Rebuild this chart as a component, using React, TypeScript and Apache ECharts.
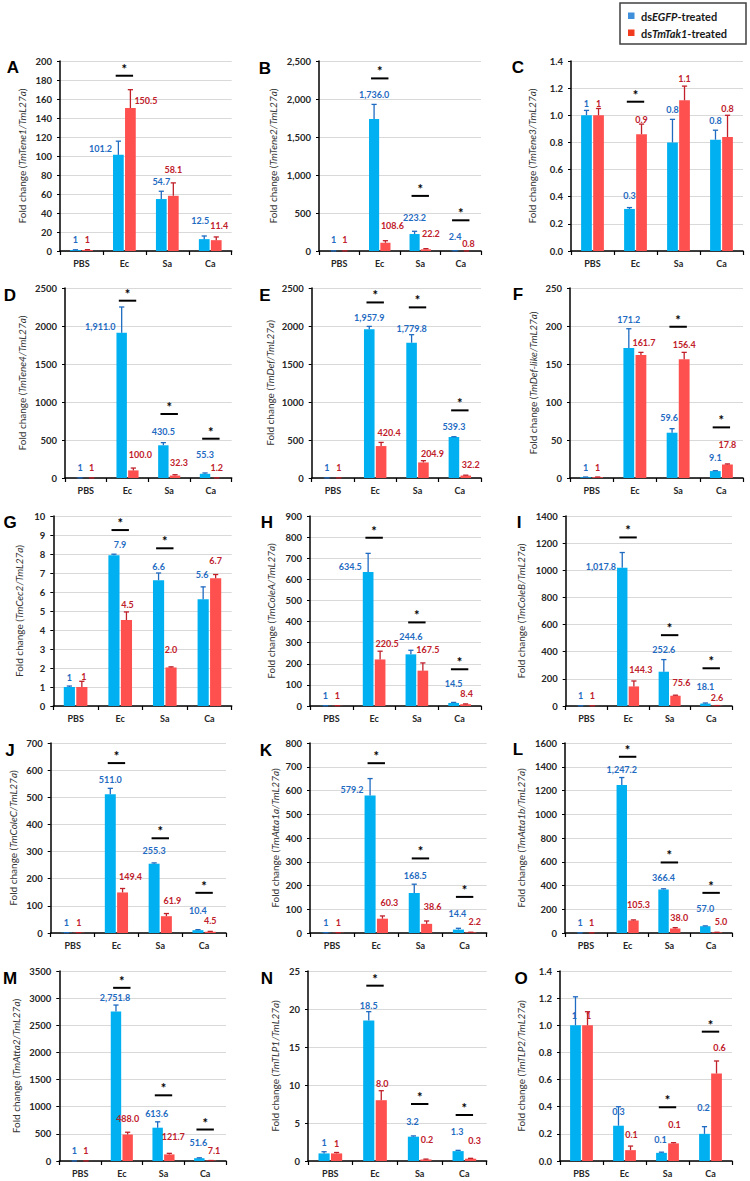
import React, { useEffect, useRef } from "react";
import * as echarts from "echarts";

const categories = ["PBS", "Ec", "Sa", "Ca"];

// ---- data (dsEGFP = blue, dsTmTak1 = red), SD = upper error, sig = level of significance bar
const aBlue = [1, 101.2, 54.7, 12.5];
const aRed = [1, 150.5, 58.1, 11.4];
const aBlueSd = [0.3, 14.4, 8.2, 3.3];
const aRedSd = [0.4, 19.3, 13.6, 3.4];
const aSig = [null, 184.5, null, null];
const aAxis = [200, 20];

const bBlue = [1, 1736.0, 223.2, 2.4];
const bRed = [1, 108.6, 22.2, 0.8];
const bBlueSd = [0.2, 193, 36, 1.5];
const bRedSd = [0.3, 27, 9, 0.3];
const bSig = [null, 2271, 725, 404];
const bAxis = [2500, 500];

const cBlue = [1, 0.31, 0.8, 0.82];
const cRed = [1, 0.86, 1.11, 0.84];
const cBlueSd = [0.036, 0.01, 0.17, 0.07];
const cRedSd = [0.05, 0.075, 0.105, 0.16];
const cSig = [null, 1.1, null, null];
const cAxis = [1.4, 0.2];

const dBlue = [1, 1911.0, 430.5, 55.3];
const dRed = [1, 100.0, 32.3, 1.2];
const dBlueSd = [0.3, 339, 35, 11];
const dRedSd = [0.3, 31, 11, 0.5];
const dSig = [null, 2333, 842, 517];
const dAxis = [2500, 500];

const eBlue = [1, 1957.9, 1779.8, 539.3];
const eRed = [1, 420.4, 204.9, 32.2];
const eBlueSd = [0.3, 37, 106, 4];
const eRedSd = [0.3, 48, 23, 5];
const eSig = [null, 2310, 2245, 890];
const eAxis = [2500, 500];

const fBlue = [1, 171.2, 59.6, 9.1];
const fRed = [1, 161.7, 156.4, 17.8];
const fBlueSd = [0.3, 25.2, 5.3, 0.5];
const fRedSd = [0.3, 3.6, 8.9, 0.7];
const fSig = [null, null, 199, 66.6];
const fAxis = [250, 50];

const gBlue = [1, 7.94, 6.62, 5.62];
const gRed = [1, 4.52, 2.03, 6.72];
const gBlueSd = [0.05, 0.05, 0.38, 0.65];
const gRedSd = [0.3, 0.43, 0.03, 0.2];
const gSig = [null, 9.26, 8.3, null];
const gAxis = [10, 1];

const hBlue = [1, 634.5, 244.6, 14.5];
const hRed = [1, 220.5, 167.5, 8.4];
const hBlueSd = [0.3, 88.5, 19.4, 2.5];
const hRedSd = [0.3, 39, 36.5, 1.5];
const hSig = [null, 797, 396, 174];
const hAxis = [900, 100];

const iBlue = [1, 1017.8, 252.6, 18.1];
const iRed = [1, 144.3, 75.6, 2.6];
const iBlueSd = [0.3, 113, 89.4, 4];
const iRedSd = [0.3, 40, 4, 0.5];
const iSig = [null, 1242, 522, 278];
const iAxis = [1400, 200];

const jBlue = [1, 511.0, 255.3, 10.4];
const jRed = [1, 149.4, 61.9, 4.5];
const jBlueSd = [0.3, 22, 3, 2];
const jRedSd = [0.3, 14.6, 9.8, 1.5];
const jSig = [null, 626, 349, 148];
const jAxis = [700, 100];

const kBlue = [1, 579.2, 168.5, 14.4];
const kRed = [1, 60.3, 38.6, 2.2];
const kBlueSd = [0.3, 71, 37, 5.4];
const kRedSd = [0.3, 11.5, 12, 1];
const kSig = [null, 715, 314, 152];
const kAxis = [800, 100];

const lBlue = [1, 1247.2, 366.4, 57.0];
const lRed = [1, 105.3, 38.0, 5.0];
const lBlueSd = [0.3, 62, 6, 3];
const lRedSd = [0.3, 5, 7, 1];
const lSig = [null, 1484, 594, 338];
const lAxis = [1600, 200];

const mBlue = [1, 2751.8, 613.6, 51.6];
const mRed = [1, 488.0, 121.7, 7.1];
const mBlueSd = [0.5, 121, 108, 7];
const mRedSd = [0.5, 42, 19, 2];
const mSig = [null, 3190, 1210, 580];
const mAxis = [3500, 500];

const nBlue = [1, 18.5, 3.2, 1.3];
const nRed = [1, 8.0, 0.2, 0.3];
const nBlueSd = [0.22, 1.15, 0.1, 0.1];
const nRedSd = [0.12, 1.25, 0.05, 0.05];
const nSig = [null, 23.07, 7.5, 6.05];
const nAxis = [25, 5];

const oBlue = [1, 0.26, 0.06, 0.2];
const oRed = [1, 0.08, 0.13, 0.645];
const oBlueSd = [0.21, 0.14, 0.005, 0.053];
const oRedSd = [0.1, 0.03, 0.005, 0.092];
const oSig = [null, null, 0.396, 0.953];
const oAxis = [1.4, 0.2];

type Panel = {
  letter: string; gene: string; blue: number[]; red: number[];
  blueSd: number[]; redSd: number[]; sig: (number | null)[]; axis: number[]; fmt: string;
};

const panels: Panel[] = [
  { letter: "A", gene: "TmTene1", blue: aBlue, red: aRed, blueSd: aBlueSd, redSd: aRedSd, sig: aSig, axis: aAxis, fmt: "plain" },
  { letter: "B", gene: "TmTene2", blue: bBlue, red: bRed, blueSd: bBlueSd, redSd: bRedSd, sig: bSig, axis: bAxis, fmt: "comma" },
  { letter: "C", gene: "TmTene3", blue: cBlue, red: cRed, blueSd: cBlueSd, redSd: cRedSd, sig: cSig, axis: cAxis, fmt: "dec1" },
  { letter: "D", gene: "TmTene4", blue: dBlue, red: dRed, blueSd: dBlueSd, redSd: dRedSd, sig: dSig, axis: dAxis, fmt: "plain" },
  { letter: "E", gene: "TmDef", blue: eBlue, red: eRed, blueSd: eBlueSd, redSd: eRedSd, sig: eSig, axis: eAxis, fmt: "plain" },
  { letter: "F", gene: "TmDef-like", blue: fBlue, red: fRed, blueSd: fBlueSd, redSd: fRedSd, sig: fSig, axis: fAxis, fmt: "plain" },
  { letter: "G", gene: "TmCec2", blue: gBlue, red: gRed, blueSd: gBlueSd, redSd: gRedSd, sig: gSig, axis: gAxis, fmt: "plain" },
  { letter: "H", gene: "TmColeA", blue: hBlue, red: hRed, blueSd: hBlueSd, redSd: hRedSd, sig: hSig, axis: hAxis, fmt: "plain" },
  { letter: "I", gene: "TmColeB", blue: iBlue, red: iRed, blueSd: iBlueSd, redSd: iRedSd, sig: iSig, axis: iAxis, fmt: "plain" },
  { letter: "J", gene: "TmColeC", blue: jBlue, red: jRed, blueSd: jBlueSd, redSd: jRedSd, sig: jSig, axis: jAxis, fmt: "plain" },
  { letter: "K", gene: "TmAtta1a", blue: kBlue, red: kRed, blueSd: kBlueSd, redSd: kRedSd, sig: kSig, axis: kAxis, fmt: "plain" },
  { letter: "L", gene: "TmAtta1b", blue: lBlue, red: lRed, blueSd: lBlueSd, redSd: lRedSd, sig: lSig, axis: lAxis, fmt: "plain" },
  { letter: "M", gene: "TmAtta2", blue: mBlue, red: mRed, blueSd: mBlueSd, redSd: mRedSd, sig: mSig, axis: mAxis, fmt: "plain" },
  { letter: "N", gene: "TmTLP1", blue: nBlue, red: nRed, blueSd: nBlueSd, redSd: nRedSd, sig: nSig, axis: nAxis, fmt: "plain" },
  { letter: "O", gene: "TmTLP2", blue: oBlue, red: oRed, blueSd: oBlueSd, redSd: oRedSd, sig: oSig, axis: oAxis, fmt: "dec1" },
];

// ---- layout (pixels)
const ROW_TOP = [61, 288, 516, 743, 971];
const PLOT_H = 190;
// [left, right] of each plot
const PLOT_X = [
  [60, 231.7], [319, 481], [571, 743],
  [65, 231.7], [311.7, 481], [570, 743],
  [53.3, 231.7], [310, 481], [565.7, 732],
  [50.7, 226], [310, 486.7], [565, 732],
  [59.3, 226], [308, 486.7], [560, 732],
];
const NAME_X = [22, 273, 532, 22, 270, 533, 19, 271, 521, 13, 275, 521, 16, 275, 521];
const LETTER_XY = [
  [13, 67], [265, 68], [518, 67],
  [10, 295], [265, 295], [518, 294],
  [10, 522], [267, 522], [519, 522],
  [10, 750], [266, 750], [518, 749],
  [10, 978], [267, 978], [521, 978],
];
// value label placement per bar: [PBS blue, PBS red, Ec blue, Ec red, Sa blue, Sa red, Ca blue, Ca red]
// mode a = above error bar, t = above bar, l = left of bar, r = right of whisker; then dx, dy in px
type Lab = [string, number, number];
const LABELS: Lab[][] = [
  [["a", 0, 0], ["a", 0, 0], ["l", 0, 0], ["r", 0, -1], ["a", 0, 0], ["a", 0, -3], ["a", -4, -5], ["a", 3, -1]],
  [["a", 0, -1], ["a", 0, -1], ["a", 0, 0], ["a", 7, -5], ["a", 0, -4], ["a", 5, -5], ["a", 0, -4], ["a", 2, 3]],
  [["a", 0, 3], ["a", 0, 5], ["a", 0, -2], ["a", 0, 5], ["a", 0, 0], ["a", 0, 2], ["a", 0, 0], ["a", 0, 3]],
  [["a", 0, 0], ["a", 0, 0], ["l", 0, 0], ["a", 7, -4], ["a", 0, -1], ["a", 4, -2], ["a", 0, -8], ["a", 0, 0]],
  [["a", 0, 0], ["a", 0, 0], ["a", 0, 1], ["a", 8, 0], ["a", 0, 4], ["a", 9, 3], ["a", 0, 0], ["a", 5, -1]],
  [["a", 0, 0], ["a", 0, 0], ["a", 0, 1], ["a", 3, 0], ["a", -3, -1], ["a", 0, 2], ["a", 0, -3], ["a", 0, -9]],
  [["a", 0, 1], ["a", 2, 5], ["a", 6, 0], ["a", 1, 3], ["a", 0, 3], ["a", 0, -7], ["a", -1, -2], ["a", 0, -4]],
  [["a", 0, 0], ["a", 0, 0], ["l", 0, 0], ["a", 7, 2], ["a", 0, -4], ["a", 5, -3], ["a", 0, -9], ["a", 1, 0]],
  [["a", 0, 0], ["a", 0, 0], ["l", 0, 5], ["a", 7, -1], ["a", 0, 0], ["a", 6, -3], ["a", 0, -7], ["a", 0, 2]],
  [["a", 0, 0], ["a", 0, 0], ["a", 0, 1], ["a", 8, -2], ["a", 0, -2], ["a", 6, -3], ["a", 0, -9], ["a", 0, -1]],
  [["a", 0, 0], ["a", 0, 0], ["l", 0, 0], ["a", 7, -3], ["a", 1, 1], ["a", 6, -4], ["a", -1, -5], ["a", 4, -1]],
  [["a", 0, 0], ["a", 0, 0], ["a", 0, 2], ["a", 5, -5], ["a", 0, -1], ["a", 4, 0], ["a", 0, -7], ["a", 4, -1]],
  [["a", 0, 0], ["a", 0, 0], ["a", -1, 2], ["a", 0, -4], ["a", -1, 2], ["a", 4, -7], ["a", -1, -5], ["a", 3, 0]],
  [["a", 0, 1], ["a", 0, 1], ["a", 0, 4], ["a", 1, 3], ["a", -1, -4], ["a", 1, -10], ["a", -1, -9], ["a", 4, -8]],
  [["t", -1, 0], ["t", 1, 0], ["t", 0, -4], ["a", 1, -2], ["a", -1, -3], ["a", 1, -8], ["a", -1, -9], ["a", 3, -3]],
];

const FONT = "Lato, 'Open Sans', sans-serif";
const BLUE = "#00B0F0";
const RED = "#FF5050";
const BLUE_TXT = "#1F6BC2";
const RED_TXT = "#C0202A";
const BAR_FRAC = 0.25;
const GAP_FRAC = 0.12;

const fmtVal = (v: number) =>
  v === 1 ? "1" : v.toLocaleString("en-US", { minimumFractionDigits: 1, maximumFractionDigits: 1 });

const tickFmt = (kind: string) => (v: number) => {
  if (kind === "comma") return v.toLocaleString("en-US");
  if (kind === "dec1") return v.toFixed(1);
  return String(Math.round(v * 1000) / 1000);
};

function buildOption() {
  const grid: any[] = [];
  const xAxis: any[] = [];
  const yAxis: any[] = [];
  const series: any[] = [];
  const graphic: any[] = [];

  panels.forEach((p, i) => {
    const row = Math.floor(i / 3);
    const [x0, x1] = PLOT_X[i];
    const top = ROW_TOP[row];
    grid.push({ left: x0, top, width: x1 - x0, height: PLOT_H, containLabel: false });
    xAxis.push({
      gridIndex: i, type: "category", data: categories, boundaryGap: true,
      axisLine: { show: true, lineStyle: { color: "#000", width: 1.5 } },
      axisTick: { show: true, length: 4, inside: false, lineStyle: { color: "#000", width: 1.2 } },
      axisLabel: { color: "#262626", fontFamily: FONT, fontWeight: "bold", fontSize: 9, margin: 8 },
      splitLine: { show: false },
    });
    yAxis.push({
      gridIndex: i, type: "value", min: 0, max: p.axis[0], interval: p.axis[1],
      axisLine: { show: true, lineStyle: { color: "#000", width: 1.5 } },
      axisTick: { show: true, length: 3, lineStyle: { color: "#000", width: 1 } },
      axisLabel: { formatter: tickFmt(p.fmt), color: "#262626", fontFamily: FONT, fontWeight: "bold", fontSize: 9.5, margin: 8 },
      splitLine: { show: true, lineStyle: { color: "#d9d9d9", width: 1 } },
    });
    series.push({
      type: "bar", xAxisIndex: i, yAxisIndex: i, data: p.blue, barWidth: BAR_FRAC * 100 + "%",
      barGap: GAP_FRAC * 100 + "%", itemStyle: { color: BLUE }, silent: true, z: 2,
    });
    series.push({
      type: "bar", xAxisIndex: i, yAxisIndex: i, data: p.red, barWidth: BAR_FRAC * 100 + "%",
      barGap: GAP_FRAC * 100 + "%", itemStyle: { color: RED }, silent: true, z: 2,
    });

    // error bars + value labels
    const items: { cat: number; side: number; v: number; sd: number; lab: Lab }[] = [];
    categories.forEach((_, c) => {
      items.push({ cat: c, side: 0, v: p.blue[c], sd: p.blueSd[c], lab: LABELS[i][c * 2] });
      items.push({ cat: c, side: 1, v: p.red[c], sd: p.redSd[c], lab: LABELS[i][c * 2 + 1] });
    });
    series.push({
      type: "custom", xAxisIndex: i, yAxisIndex: i, z: 5, clip: false, silent: true,
      data: items.map((it) => [it.cat, it.v, it.v + it.sd]),
      encode: { x: 0, y: [1, 2] },
      renderItem: (params: any, api: any) => {
        const it = items[params.dataIndex];
        const band = api.size([1, 0])[0];
        const bw = band * BAR_FRAC;
        const gap = bw * GAP_FRAC;
        const off = ((bw + gap) / 2) * (it.side === 0 ? -1 : 1);
        const base = api.coord([api.value(0), api.value(1)]);
        const tp = api.coord([api.value(0), api.value(2)]);
        const cx = base[0] + off;
        const yb = base[1];
        const yt = tp[1];
        const col = it.side === 0 ? BLUE_TXT : RED_TXT;
        const [mode, dx, dy] = it.lab;
        let tx = cx + dx;
        let ty = yt - 10 + dy;
        let align = "center";
        if (mode === "t") { ty = yb - 10 + dy; }
        if (mode === "l") { tx = cx - bw / 2 - 1 + dx; ty = yb - 6 + dy; align = "right"; }
        if (mode === "r") { tx = cx + 4 + dx; ty = yb - 7 + dy; align = "left"; }
        return {
          type: "group",
          children: [
            { type: "line", shape: { x1: cx, y1: yb, x2: cx, y2: yt }, style: { stroke: col, lineWidth: 1.3 } },
            { type: "line", shape: { x1: cx - 2.6, y1: yt, x2: cx + 2.6, y2: yt }, style: { stroke: col, lineWidth: 1.3 } },
            {
              type: "text", x: tx, y: ty,
              style: { text: fmtVal(it.v), fill: col, fontFamily: FONT, fontWeight: "bold", fontSize: 9, align, verticalAlign: "middle" },
            },
          ],
        };
      },
    });

    // significance markers
    const sigItems: number[][] = [];
    p.sig.forEach((s, c) => { if (s !== null) sigItems.push([c, s]); });
    series.push({
      type: "custom", xAxisIndex: i, yAxisIndex: i, z: 6, clip: false, silent: true,
      data: sigItems, encode: { x: 0, y: 1 },
      renderItem: (params: any, api: any) => {
        const pt = api.coord([api.value(0), api.value(1)]);
        return {
          type: "group",
          children: [
            { type: "line", shape: { x1: pt[0] - 8.7, y1: pt[1], x2: pt[0] + 8.7, y2: pt[1] }, style: { stroke: "#000", lineWidth: 2 } },
            {
              type: "text", x: pt[0], y: pt[1] - 7,
              style: { text: "*", fill: "#000", fontFamily: FONT, fontWeight: "bold", fontSize: 13, align: "center", verticalAlign: "middle" },
            },
          ],
        };
      },
    });

    // panel letter
    graphic.push({
      type: "text", x: LETTER_XY[i][0], y: LETTER_XY[i][1], silent: true,
      style: { text: p.letter, fill: "#000", font: "bold 17px 'Liberation Sans', Arial, sans-serif", align: "center", verticalAlign: "middle" },
    });
    // y axis title
    graphic.push({
      type: "text", x: NAME_X[i], y: top + PLOT_H / 2, rotation: Math.PI / 2, silent: true,
      style: {
        text: `{r|Fold change (}{i|${p.gene}/TmL27a}{r|)}`,
        align: "center", verticalAlign: "middle",
        rich: {
          r: { fill: "#333", fontFamily: FONT, fontSize: 10 },
          i: { fill: "#333", fontFamily: FONT, fontSize: 10, fontStyle: "italic" },
        },
      },
    });
  });

  // legend
  graphic.push({
    type: "rect", shape: { x: 620, y: 3, width: 126, height: 41 }, silent: true,
    style: { fill: "#fff", stroke: "#404040", lineWidth: 1.5 },
  });
  graphic.push({ type: "rect", shape: { x: 628, y: 12.5, width: 6.5, height: 6.5 }, style: { fill: "#3F8FDA" }, silent: true });
  graphic.push({ type: "rect", shape: { x: 628, y: 29.5, width: 6.5, height: 6.5 }, style: { fill: "#F23A1F" }, silent: true });
  const legRich = {
    b: { fill: "#1a1a1a", fontFamily: FONT, fontSize: 11, fontWeight: "bold" },
    bi: { fill: "#1a1a1a", fontFamily: FONT, fontSize: 11, fontWeight: "bold", fontStyle: "italic" },
  };
  graphic.push({
    type: "text", x: 641, y: 16, silent: true,
    style: { text: "{b|ds}{bi|EGFP}{b|-treated}", rich: legRich, align: "left", verticalAlign: "middle" },
  });
  graphic.push({
    type: "text", x: 641, y: 33, silent: true,
    style: { text: "{b|ds}{bi|TmTak1}{b|-treated}", rich: legRich, align: "left", verticalAlign: "middle" },
  });

  return { animation: false, backgroundColor: "#fff", grid, xAxis, yAxis, series, graphic };
}

export default function App() {
  const ref = useRef<HTMLDivElement>(null);
  useEffect(() => {
    const chart = echarts.init(ref.current as HTMLDivElement, undefined, { renderer: "svg", width: 750, height: 1181 });
    chart.setOption(buildOption() as any);
    return () => chart.dispose();
  }, []);
  return (
    <div
      ref={ref}
      style={{ position: "absolute", left: 0, top: 0, width: 750, height: 1181, background: "#fff" }}
    />
  );
}
